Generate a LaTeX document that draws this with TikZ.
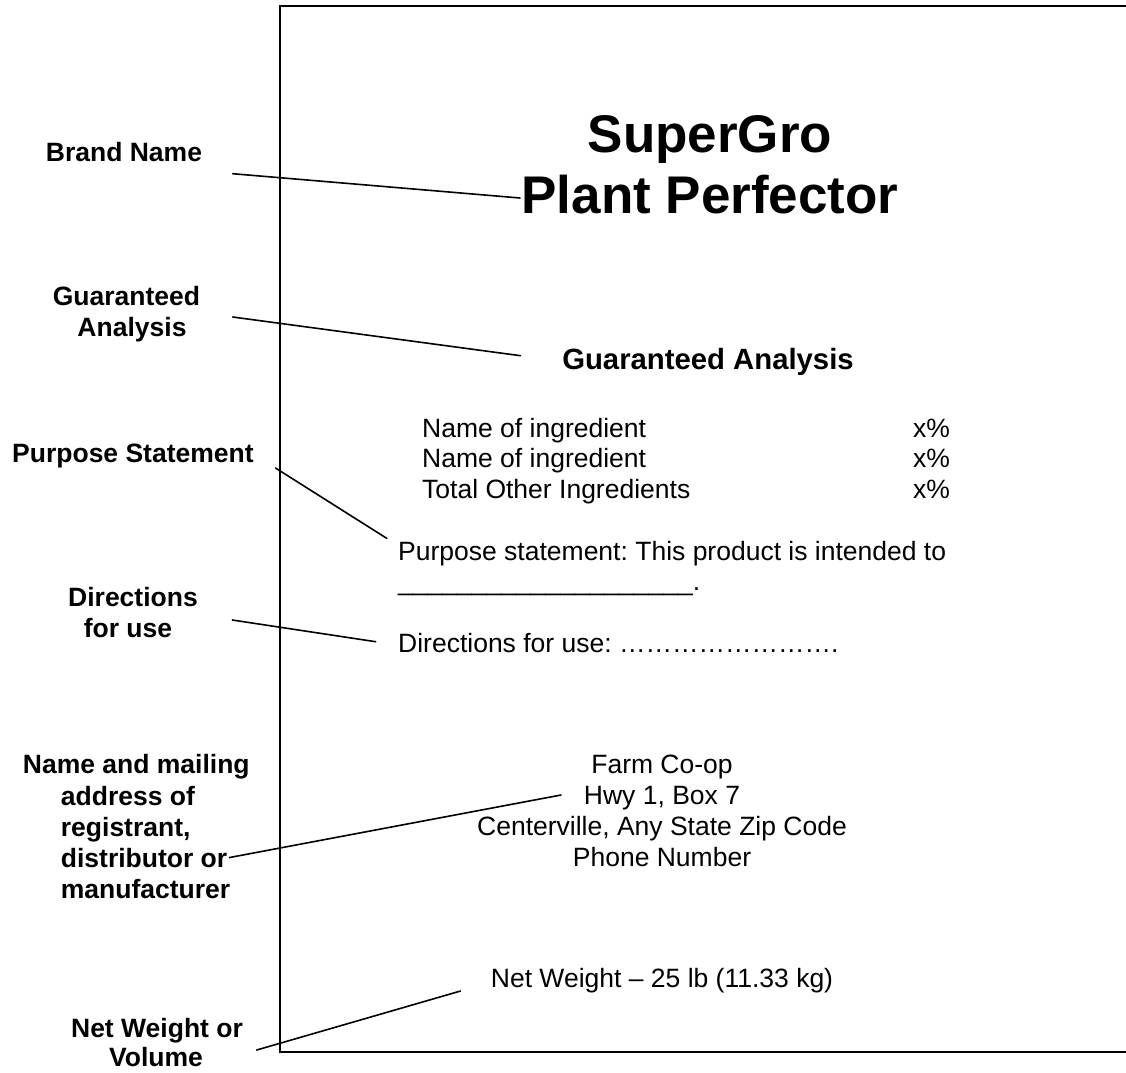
\documentclass[tikz,border=0pt]{standalone}
\usepackage{fontspec}
\setmainfont{Liberation Sans}
\frenchspacing
\newcommand\dotrow{\char"2026\char"2026\char"2026\char"2026\char"2026\char"2026\char"2026\char"2026}
\begin{document}
\begin{tikzpicture}[x=1pt,y=-1pt,
  lbl/.style={font=\fontsize{26.5}{30.5}\selectfont\bfseries, inner sep=0pt, anchor=base},
  body/.style={font=\fontsize{26.5}{30.5}\selectfont, inner sep=0pt, anchor=base},
  headtxt/.style={font=\fontsize{29.3}{34}\selectfont\bfseries, inner sep=0pt, anchor=base},
  titletxt/.style={font=\fontsize{53}{61}\selectfont\bfseries, inner sep=0pt, anchor=base},
  conn/.style={line width=1.6pt, line cap=round},
  frame/.style={line width=2.2pt}]
\useasboundingbox (0,0) rectangle (1126,1072);
\fill[white] (0,0) rectangle (1126,1072);
% label sheet (right side runs off the picture)
\draw[frame] (1140,6) -- (280,6) -- (280,1052) -- (1140,1052);

% ---- label contents ----
\node[titletxt] (t1) at (710,152) {SuperGro};
\node[titletxt] (t2) at (710,213) {Plant Perfector};
\node[headtxt] (ga) at (708,369) {Guaranteed Analysis};

\node[body, anchor=base west] (i1) at (422,437) {Name of ingredient};
\node[body, anchor=base west] (i2) at (422,467.5) {Name of ingredient};
\node[body, anchor=base west] (i3) at (422,498) {Total Other Ingredients};
\node[body, anchor=base west] (p1) at (913,437) {x\%};
\node[body, anchor=base west] (p2) at (913,467.5) {x\%};
\node[body, anchor=base west] (p3) at (913,498) {x\%};

\node[body, anchor=base west] (ps1) at (398,560) {Purpose statement: This product is intended to};
\node[body, anchor=base west] (ps2) at (398,590.5) {\_\_\_\_\_\_\_\_\_\_\_\_\_\_\_\_\_\_\_\_.};
\node[body, anchor=base west] (dir) at (398,652) {Directions for use: \dotrow.};

\node[body] (f1) at (662,773) {Farm Co-op};
\node[body] (f2) at (662,804) {Hwy 1, Box 7};
\node[body] (f3) at (662,835) {Centerville, Any State Zip Code};
\node[body] (f4) at (662,866) {Phone Number};

\node[body] (nw) at (662,987) {Net Weight – 25 lb (11.33 kg)};

% ---- callout labels ----
\node[lbl] (lbrand) at (124,161) {Brand Name};
\node[lbl] (lga1) at (126.5,305) {Guaranteed};
\node[lbl] (lga2) at (132,336) {Analysis};
\node[lbl, anchor=base west] (lps) at (12,462) {Purpose Statement};
\node[lbl] (ldir1) at (133,606) {Directions};
\node[lbl] (ldir2) at (128,637) {for use};
\node[lbl] (lnm1) at (136.3,773) {Name and mailing};
\node[lbl, anchor=base west] (lnm2) at (60.7,805) {address of};
\node[lbl, anchor=base west] (lnm3) at (60.7,836) {registrant,};
\node[lbl, anchor=base west] (lnm4) at (60.7,867) {distributor or};
\node[lbl, anchor=base west] (lnm5) at (60.7,898) {manufacturer};
\node[lbl] (lnw1) at (157,1037) {Net Weight or};
\node[lbl] (lnw2) at (156,1066.5) {Volume};

% ---- connector end points ----
\coordinate (cbA) at (232.7,173.7);
\coordinate (cbB) at (520,198);
\coordinate (cgA) at (232.7,317);
\coordinate (cgB) at (520.5,355.7);
\coordinate (cpA) at (275.5,468);
\coordinate (cpB) at (386.7,538.3);
\coordinate (cdA) at (232.3,620);
\coordinate (cdB) at (375.7,641.7);
\coordinate (cnB) at (561,795);
\coordinate (cwA) at (256.7,1050);
\coordinate (cwB) at (460.5,991);

\draw[conn] (cbA) -- (cbB);
\draw[conn] (cgA) -- (cgB);
\draw[conn] (cpA) -- (cpB);
\draw[conn] (cdA) -- (cdB);
\draw[conn] ([xshift=2pt]lnm4.east) -- (cnB);
\draw[conn] (cwA) -- (cwB);
\end{tikzpicture}
\end{document}
